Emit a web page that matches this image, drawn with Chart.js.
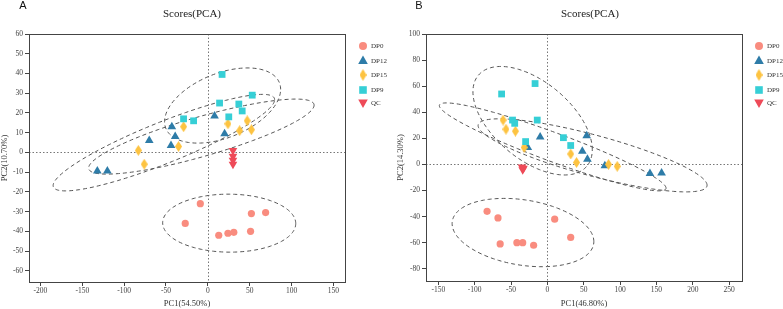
<!DOCTYPE html>
<html>
<head>
<meta charset="utf-8">
<script src="https://cdn.jsdelivr.net/npm/chart.js@4.4.0/dist/chart.umd.min.js"></script>
<style>
  html, body { margin: 0; padding: 0; background: #fff; }
  #wrap { position: relative; width: 783px; height: 309px; overflow: hidden; }
  .panel { position: absolute; top: 0; height: 309px; }
  #boxA { left: 0; width: 392px; }
  #boxB { left: 392px; width: 391px; }
</style>
</head>
<body>
<div id="wrap">
  <div class="panel" id="boxA"><canvas id="chartA"></canvas></div>
  <div class="panel" id="boxB"><canvas id="chartB"></canvas></div>
</div>
<script>
// groups shown in both panels
const groupNames = ['DP0', 'DP12', 'DP15', 'DP9', 'QC'];
const groupColors = ['#F98C7F', '#2E7CA8', '#FDC341', '#36CFD6', '#EE4A58'];

// panel A scores
const aX_DP0 = [-9, -27, 13, 24, 31, 51, 52, 69];
const aY_DP0 = [-26, -36, -42, -41, -40.5, -40, -31, -30.5];
const aX_DP12 = [-43, -70, -39, -44, 8, 20, -132, -120];
const aY_DP12 = [13, 6, 8, 3.5, 18.5, 9.5, -9.5, -9.5];
const aX_DP15 = [-29, -35, -83, -76, 24, 38, 47, 52];
const aY_DP15 = [13, 3, 1, -6, 14.5, 11, 16, 11.5];
const aX_DP9 = [17, 53, 14, 37, 41, 25, -29, -17];
const aY_DP9 = [39.5, 29, 25, 24.5, 21, 18, 17, 16];
const aX_QC = [30, 30, 30, 30];
const aY_QC = [1, -2, -4, -6];
const aXTicks = [-200, -150, -100, -50, 0, 50, 100, 150];
const aYTicks = [-60, -50, -40, -30, -20, -10, 0, 10, 20, 30, 40, 50, 60];

// panel B scores
const bX_DP0 = [-83, -68, -65, -42, -34, -19, 10, 32];
const bY_DP0 = [-36, -41, -61, -60, -60, -62, -42, -56];
const bX_DP12 = [-10, 54, -27, 48, 55, 79, 141, 157];
const bY_DP12 = [21, 22, 13, 10, 4, -1, -7, -6.5];
const bX_DP15 = [-61, -57, -44, -32, 32, 40, 84, 96];
const bY_DP15 = [34, 27, 25.5, 13, 8, 1.5, 0, -1.5];
const bX_DP9 = [-63, -17, -14, -48, -45, -30, 22, 32];
const bY_DP9 = [54, 62, 34, 34, 31.5, 17.5, 20.5, 14.5];
const bX_QC = [-35, -33, -34];
const bY_QC = [-2, -3, -4];
const bXTicks = [-150, -100, -50, 0, 50, 100, 150, 200, 250];
const bYTicks = [-80, -60, -40, -20, 0, 20, 40, 60, 80, 100];

const SERIF = "'Liberation Serif', 'DejaVu Serif', serif";
const SANS = "'Liberation Sans', Arial, sans-serif";

// tall diamond marker (DP15)
function makeDiamond(w, h, color) {
  const c = document.createElement('canvas');
  c.width = w; c.height = h;
  const g = c.getContext('2d');
  g.fillStyle = color;
  g.beginPath();
  g.moveTo(w / 2, 0); g.lineTo(w, h / 2); g.lineTo(w / 2, h); g.lineTo(0, h / 2);
  g.closePath(); g.fill();
  return c;
}
const diamondPt = makeDiamond(7, 11, groupColors[2]);
const diamondLeg = makeDiamond(7, 12, groupColors[2]);

// 95% confidence ellipse from group scores
function ellipse(xs, ys) {
  const n = xs.length;
  const mx = xs.reduce((a, b) => a + b, 0) / n;
  const my = ys.reduce((a, b) => a + b, 0) / n;
  let sxx = 0, syy = 0, sxy = 0;
  for (let i = 0; i < n; i++) {
    const dx = xs[i] - mx, dy = ys[i] - my;
    sxx += dx * dx; syy += dy * dy; sxy += dx * dy;
  }
  sxx /= n - 1; syy /= n - 1; sxy /= n - 1;
  const l11 = Math.sqrt(sxx), l21 = sxy / l11, l22 = Math.sqrt(Math.max(syy - l21 * l21, 0));
  const k = Math.sqrt(5.991);
  const pts = [];
  for (let i = 0; i <= 160; i++) {
    const t = 2 * Math.PI * i / 160;
    const c = Math.cos(t), s = Math.sin(t);
    pts.push({ x: mx + k * l11 * c, y: my + k * (l21 * c + l22 * s) });
  }
  return pts;
}

function zip(xs, ys) { return xs.map((x, i) => ({ x: x, y: ys[i] })); }

const markerStyles = [
  { pointStyle: 'circle', radius: 3.6, rotation: 0 },
  { pointStyle: 'triangle', radius: 5, rotation: 0 },
  { pointStyle: diamondPt, radius: 5, rotation: 0 },
  { pointStyle: 'rect', radius: 4.8, rotation: 0 },
  { pointStyle: 'triangle', radius: 5, rotation: 180 }
];

function buildDatasets(xsList, ysList) {
  const sets = [];
  // ellipses for the four groups (not QC)
  for (let g = 0; g < 4; g++) {
    sets.push({
      label: groupNames[g] + ' ellipse',
      data: ellipse(xsList[g], ysList[g]),
      showLine: true, fill: false, tension: 0,
      borderColor: '#555', borderWidth: 1, borderDash: [4, 3],
      pointRadius: 0, pointHoverRadius: 0,
      order: 10
    });
  }
  for (let g = 0; g < 5; g++) {
    const m = markerStyles[g];
    sets.push({
      label: groupNames[g],
      data: zip(xsList[g], ysList[g]),
      showLine: false,
      backgroundColor: groupColors[g], borderColor: groupColors[g], borderWidth: 0,
      pointStyle: m.pointStyle, pointRadius: m.radius, pointHoverRadius: m.radius,
      rotation: m.rotation,
      order: 5 - g
    });
  }
  return sets;
}

function drawLegendMarker(ctx, g, x, y) {
  ctx.fillStyle = groupColors[g];
  ctx.beginPath();
  if (g === 0) {
    ctx.arc(x, y, 4, 0, Math.PI * 2);
  } else if (g === 1) {
    ctx.moveTo(x, y - 5.5); ctx.lineTo(x + 4.8, y + 3); ctx.lineTo(x - 4.8, y + 3);
  } else if (g === 2) {
    ctx.drawImage(diamondLeg, x - 3.5, y - 6);
    return;
  } else if (g === 3) {
    ctx.rect(x - 3.8, y - 3.8, 7.6, 7.6);
  } else {
    ctx.moveTo(x, y + 5); ctx.lineTo(x + 4.8, y - 3.5); ctx.lineTo(x - 4.8, y - 3.5);
  }
  ctx.closePath();
  ctx.fill();
}

function panelPlugin(letter, letterX, titleShift, legX) {
  return {
    id: 'panelDeco' + letter,
    beforeDatasetsDraw(chart) {
      const ctx = chart.ctx, a = chart.chartArea;
      const x0 = chart.scales.x.getPixelForValue(0);
      const y0 = chart.scales.y.getPixelForValue(0);
      ctx.save();
      ctx.strokeStyle = '#777';
      ctx.lineWidth = 1;
      ctx.setLineDash([1.5, 2]);
      ctx.beginPath();
      ctx.moveTo(Math.round(x0) + 0.5, a.top); ctx.lineTo(Math.round(x0) + 0.5, a.bottom);
      ctx.moveTo(a.left, Math.round(y0) + 0.5); ctx.lineTo(a.right, Math.round(y0) + 0.5);
      ctx.stroke();
      ctx.restore();
    },
    afterDraw(chart) {
      const ctx = chart.ctx, a = chart.chartArea;
      ctx.save();
      // frame
      ctx.strokeStyle = '#444';
      ctx.lineWidth = 1;
      ctx.strokeRect(Math.round(a.left) + 0.5, Math.round(a.top) + 0.5,
        Math.round(a.right - a.left), Math.round(a.bottom - a.top));
      // title
      ctx.fillStyle = '#222';
      ctx.font = '11px ' + SERIF;
      ctx.textAlign = 'center';
      ctx.textBaseline = 'middle';
      ctx.fillText('Scores(PCA)', (a.left + a.right) / 2 + titleShift, 14);
      // panel letter
      ctx.font = '11px ' + SANS;
      ctx.fillStyle = '#111';
      ctx.fillText(letter, letterX, 6);
      // legend
      const rows = [46, 61, 75, 90, 103];
      ctx.font = '7px ' + SERIF;
      ctx.textAlign = 'left';
      for (let g = 0; g < 5; g++) {
        drawLegendMarker(ctx, g, legX, rows[g]);
        ctx.fillStyle = '#333';
        ctx.fillText(groupNames[g], legX + 8, rows[g] + 0.5);
      }
      ctx.restore();
    }
  };
}

function axisCfg(min, max, ticks, title, isX, fitSize, titlePad) {
  return {
    type: 'linear',
    position: isX ? 'bottom' : 'left',
    min: min, max: max,
    grid: { display: true, drawOnChartArea: false, drawTicks: true, tickLength: 4, color: '#444' },
    border: { display: true, color: '#444', width: 1 },
    ticks: { font: { family: SERIF, size: 7.5 }, color: '#444', padding: isX ? 1 : 2, maxRotation: 0, autoSkip: false },
    title: { display: true, text: title, font: { family: SERIF, size: 8.5 }, color: '#333', padding: titlePad },
    afterBuildTicks: axis => { axis.ticks = ticks.map(v => ({ value: v })); },
    afterFit: s => { if (isX) { s.height = fitSize; } else { s.width = fitSize; } }
  };
}

function makeChart(id, datasets, xAxis, yAxis, padding, plugin) {
  return new Chart(document.getElementById(id).getContext('2d'), {
    type: 'scatter',
    data: { datasets: datasets },
    options: {
      responsive: true,
      maintainAspectRatio: false,
      animation: false,
      devicePixelRatio: 1,
      layout: { padding: padding },
      plugins: { legend: { display: false }, tooltip: { enabled: false }, title: { display: false } },
      scales: { x: xAxis, y: yAxis }
    },
    plugins: [plugin]
  });
}

makeChart('chartA',
  buildDatasets([aX_DP0, aX_DP12, aX_DP15, aX_DP9, aX_QC], [aY_DP0, aY_DP12, aY_DP15, aY_DP9, aY_QC]),
  axisCfg(-213.6, 163.8, aXTicks, 'PC1(54.50%)', true, 27, { top: 0, bottom: 0 }),
  axisCfg(-65.7, 60, aYTicks, 'PC2(10.70%)', false, 29, { top: 0, bottom: 0 }),
  { top: 34, right: 47, left: 0, bottom: 0 },
  panelPlugin('A', 23, 5, 363));

makeChart('chartB',
  buildDatasets([bX_DP0, bX_DP12, bX_DP15, bX_DP9, bX_QC], [bY_DP0, bY_DP12, bY_DP15, bY_DP9, bY_QC]),
  axisCfg(-167, 267.6, bXTicks, 'PC1(46.80%)', true, 28, { top: 0, bottom: 0 }),
  axisCfg(-89.4, 100, bYTicks, 'PC2(14.30%)', false, 30, { top: 0, bottom: 0 }),
  { top: 34, right: 41, left: 4, bottom: 0 },
  panelPlugin('B', 27, 6, 367));
</script>
</body>
</html>
